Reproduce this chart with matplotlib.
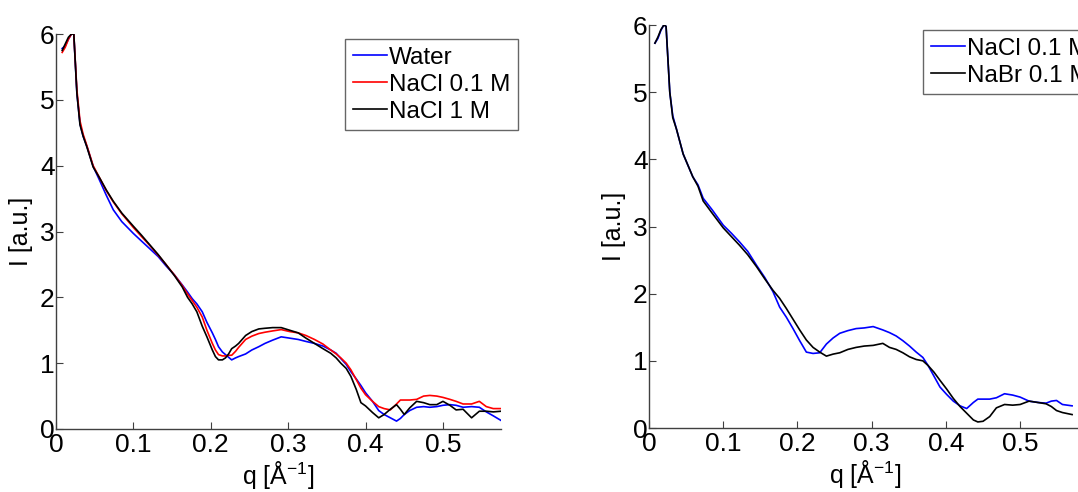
import matplotlib
matplotlib.use("Agg")
import matplotlib.pyplot as plt

plt.rcParams["font.family"] = ["Liberation Sans", "DejaVu Sans"]
plt.rcParams["mathtext.fontset"] = "custom"
plt.rcParams["mathtext.rm"] = "Liberation Sans"
plt.rcParams["mathtext.it"] = "Liberation Sans:italic"

# left panel: water vs NaCl
q_left = [0.008, 0.012, 0.016, 0.020, 0.023, 0.027, 0.031, 0.035, 0.040, 0.048,
          0.057, 0.065, 0.074, 0.085, 0.100, 0.110, 0.121, 0.132, 0.142, 0.153,
          0.163, 0.170, 0.176, 0.182, 0.189, 0.195, 0.202, 0.206, 0.210, 0.215,
          0.219, 0.223, 0.227, 0.232, 0.236, 0.245, 0.253, 0.262, 0.270, 0.280,
          0.291, 0.302, 0.313, 0.323, 0.334, 0.345, 0.355, 0.362, 0.368, 0.375,
          0.381, 0.388, 0.394, 0.400, 0.409, 0.417, 0.424, 0.432, 0.440, 0.445,
          0.450, 0.457, 0.466, 0.475, 0.483, 0.492, 0.500, 0.509, 0.517, 0.526,
          0.537, 0.547, 0.556, 0.565, 0.575]
water = [5.78, 5.82, 5.92, 6.00, 6.00, 5.10, 4.64, 4.45, 4.29, 3.99,
         3.76, 3.55, 3.33, 3.15, 2.97, 2.86, 2.74, 2.62, 2.48, 2.34,
         2.19, 2.08, 1.98, 1.90, 1.78, 1.62, 1.46, 1.36, 1.25, 1.17,
         1.13, 1.09, 1.05, 1.08, 1.10, 1.14, 1.20, 1.25, 1.30, 1.35,
         1.40, 1.38, 1.36, 1.33, 1.30, 1.26, 1.20, 1.15, 1.07, 0.98,
         0.87, 0.76, 0.66, 0.55, 0.42, 0.28, 0.22, 0.17, 0.12, 0.16,
         0.22, 0.28, 0.33, 0.34, 0.33, 0.34, 0.36, 0.37, 0.36, 0.33,
         0.34, 0.33, 0.26, 0.20, 0.13]
nacl_01 = [5.72, 5.80, 5.92, 6.00, 6.00, 5.15, 4.68, 4.48, 4.30, 4.00,
           3.80, 3.62, 3.45, 3.27, 3.06, 2.93, 2.79, 2.64, 2.50, 2.34,
           2.18, 2.05, 1.95, 1.85, 1.70, 1.50, 1.30, 1.20, 1.13, 1.11,
           1.11, 1.12, 1.12, 1.18, 1.24, 1.36, 1.41, 1.45, 1.47, 1.49,
           1.51, 1.48, 1.46, 1.42, 1.36, 1.29, 1.20, 1.14, 1.08, 1.00,
           0.90, 0.75, 0.62, 0.52, 0.42, 0.34, 0.31, 0.29, 0.38, 0.44,
           0.44, 0.44, 0.45, 0.50, 0.51, 0.50, 0.48, 0.45, 0.42, 0.38,
           0.38, 0.42, 0.34, 0.31, 0.31]
nacl_1 = [5.75, 5.85, 5.95, 6.00, 6.00, 5.10, 4.62, 4.45, 4.28, 3.98,
          3.80, 3.63, 3.46, 3.28, 3.08, 2.95, 2.80, 2.65, 2.50, 2.33,
          2.16, 2.00, 1.90, 1.78, 1.56, 1.40, 1.20, 1.10, 1.05, 1.05,
          1.08, 1.14, 1.22, 1.26, 1.30, 1.42, 1.48, 1.52, 1.53, 1.54,
          1.54, 1.50, 1.46, 1.38, 1.30, 1.22, 1.15, 1.08, 1.00, 0.92,
          0.80, 0.60, 0.40, 0.35, 0.25, 0.17, 0.22, 0.30, 0.37, 0.30,
          0.22, 0.32, 0.42, 0.40, 0.37, 0.37, 0.42, 0.36, 0.29, 0.30,
          0.17, 0.27, 0.27, 0.26, 0.27]

# right panel: NaCl vs NaBr
q_right = [0.008, 0.012, 0.016, 0.020, 0.023, 0.028, 0.032, 0.037, 0.046, 0.059,
           0.066, 0.073, 0.085, 0.100, 0.111, 0.122, 0.133, 0.145, 0.156, 0.167,
           0.176, 0.185, 0.194, 0.203, 0.212, 0.221, 0.230, 0.239, 0.248, 0.257,
           0.268, 0.279, 0.290, 0.302, 0.315, 0.324, 0.333, 0.342, 0.351, 0.360,
           0.369, 0.376, 0.384, 0.392, 0.401, 0.410, 0.419, 0.428, 0.437, 0.443,
           0.450, 0.459, 0.468, 0.479, 0.490, 0.500, 0.512, 0.524, 0.535, 0.542,
           0.549, 0.557, 0.570]
nacl_01_b = [5.73, 5.80, 5.92, 6.00, 5.98, 5.00, 4.65, 4.45, 4.08, 3.74,
             3.62, 3.42, 3.25, 3.02, 2.90, 2.77, 2.63, 2.42, 2.24, 2.03,
             1.80, 1.65, 1.48, 1.30, 1.13, 1.11, 1.12, 1.25, 1.34, 1.41,
             1.45, 1.48, 1.49, 1.51, 1.46, 1.42, 1.37, 1.30, 1.22, 1.13,
             1.05, 0.93, 0.77, 0.61, 0.50, 0.40, 0.33, 0.29, 0.38, 0.43,
             0.43, 0.43, 0.45, 0.51, 0.49, 0.46, 0.40, 0.38, 0.37, 0.40,
             0.41, 0.35, 0.33]
nabr_01 = [5.73, 5.82, 5.93, 6.00, 5.98, 5.00, 4.62, 4.45, 4.08, 3.74,
           3.60, 3.38, 3.20, 2.98, 2.85, 2.72, 2.58, 2.40, 2.22, 2.05,
           1.93, 1.78, 1.62, 1.46, 1.31, 1.20, 1.13, 1.07, 1.10, 1.12,
           1.17, 1.20, 1.22, 1.23, 1.26, 1.20, 1.17, 1.12, 1.06, 1.02,
           1.00, 0.93, 0.83, 0.71, 0.58, 0.44, 0.32, 0.22, 0.12, 0.09,
           0.10, 0.17, 0.30, 0.35, 0.34, 0.35, 0.40, 0.38, 0.36, 0.32,
           0.26, 0.23, 0.20]

x_ticks = [0, 0.1, 0.2, 0.3, 0.4, 0.5]
x_tick_labels = ["0", "0.1", "0.2", "0.3", "0.4", "0.5"]
y_ticks = [0, 1, 2, 3, 4, 5, 6]

W, H = 1078, 492
fig = plt.figure(figsize=(W / 100, H / 100), dpi=100)

ax1 = fig.add_axes([56 / W, 1 - 429 / H, 445 / W, 395 / H])
ax2 = fig.add_axes([649 / W, 1 - 428 / H, 432 / W, 403 / H])


def style(ax, xmax):
    ax.set_xlim(0, xmax)
    ax.set_ylim(0, 6)
    ax.set_xticks(x_ticks)
    ax.set_xticklabels(x_tick_labels)
    ax.set_yticks(y_ticks)
    ax.spines["top"].set_visible(False)
    ax.spines["right"].set_visible(False)
    for s in ["left", "bottom"]:
        ax.spines[s].set_color("#404040")
        ax.spines[s].set_linewidth(1.0)
    ax.tick_params(direction="in", length=5, width=0.8, color="#404040",
                   labelsize=19, pad=3)
    ax.tick_params(axis="y", pad=1)
    ax.set_xlabel("q [Å$^{-1}$]", fontsize=18, labelpad=1)
    ax.set_ylabel("I [a.u.]", fontsize=18, labelpad=5)


ax1.plot(q_left, water, color="#0000ff", lw=1.2, label="Water")
ax1.plot(q_left, nacl_01, color="#ff0000", lw=1.2, label="NaCl 0.1 M")
ax1.plot(q_left, nacl_1, color="black", lw=1.2, label="NaCl 1 M")
style(ax1, 0.575)

ax2.plot(q_right, nacl_01_b, color="#0000ff", lw=1.2, label="NaCl 0.1 M")
ax2.plot(q_right, nabr_01, color="black", lw=1.2, label="NaBr 0.1 M")
style(ax2, 0.582)

for ax, (lx, ly) in [(ax1, (345, 39)), (ax2, (923, 30))]:
    leg = ax.legend(loc="upper left", bbox_to_anchor=(lx / W, 1 - ly / H),
                    bbox_transform=fig.transFigure, borderaxespad=0,
                    fontsize=17.5, frameon=True, fancybox=False,
                    handlelength=1.4, handletextpad=0.1, labelspacing=0.2,
                    borderpad=0.32)
    leg.get_frame().set_edgecolor("#404040")
    leg.get_frame().set_linewidth(1.0)

fig.savefig("out.png", dpi=100)
